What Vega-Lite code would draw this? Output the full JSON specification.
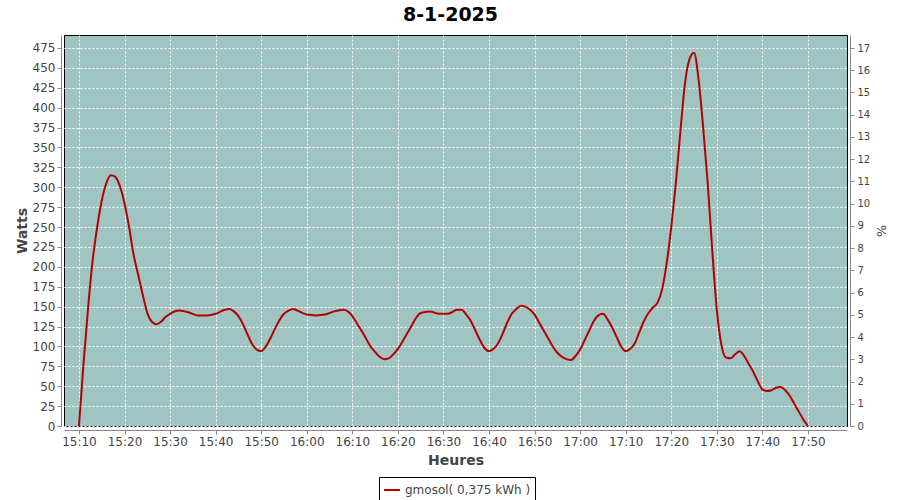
{
  "$schema": "https://vega.github.io/schema/vega-lite/v6.json",
  "width": 783,
  "height": 391,
  "autosize": "none",
  "padding": {"left": 64, "top": 35, "right": 53, "bottom": 74},
  "background": "white",
  "title": {"text": "8-1-2025", "fontSize": 19, "font": "DejaVu Sans", "fontWeight": "bold", "color": "black", "offset": 10, "dx": -5},
  "config": {
    "view": {"fill": "#9FC4C2", "stroke": "black", "strokeWidth": 1},
    "axis": {"labelFont": "DejaVu Sans", "labelFontSize": 12, "labelColor": "#444444", "titleFont": "DejaVu Sans", "titleFontSize": 14, "titleFontWeight": "bold", "titleColor": "#444444", "domainColor": "#888888", "tickColor": "#888888", "tickSize": 4, "gridColor": "white", "gridDash": [2, 2], "gridOpacity": 1, "gridWidth": 1}
  },
  "data": {"values": [
    {"t":"2025-01-08T15:10:00","w":0},{"t":"2025-01-08T15:11:00","w":78},{"t":"2025-01-08T15:12:00","w":148},{"t":"2025-01-08T15:13:00","w":208},{"t":"2025-01-08T15:14:00","w":250},{"t":"2025-01-08T15:15:00","w":283},{"t":"2025-01-08T15:16:00","w":305},{"t":"2025-01-08T15:17:00","w":315},{"t":"2025-01-08T15:18:00","w":313},{"t":"2025-01-08T15:19:00","w":301},
    {"t":"2025-01-08T15:20:00","w":280},{"t":"2025-01-08T15:21:00","w":250},{"t":"2025-01-08T15:22:00","w":215},{"t":"2025-01-08T15:23:00","w":190},{"t":"2025-01-08T15:24:00","w":165},{"t":"2025-01-08T15:25:00","w":142},{"t":"2025-01-08T15:26:00","w":131},{"t":"2025-01-08T15:27:00","w":128},{"t":"2025-01-08T15:28:00","w":131},{"t":"2025-01-08T15:29:00","w":137},
    {"t":"2025-01-08T15:30:00","w":141},{"t":"2025-01-08T15:32:00","w":145},{"t":"2025-01-08T15:34:00","w":143},{"t":"2025-01-08T15:36:00","w":139},{"t":"2025-01-08T15:38:00","w":139},{"t":"2025-01-08T15:40:00","w":141},{"t":"2025-01-08T15:42:00","w":146},{"t":"2025-01-08T15:43:00","w":147},{"t":"2025-01-08T15:44:00","w":144},{"t":"2025-01-08T15:45:00","w":138},{"t":"2025-01-08T15:46:00","w":128},{"t":"2025-01-08T15:47:00","w":115},{"t":"2025-01-08T15:48:00","w":103},{"t":"2025-01-08T15:49:00","w":96},
    {"t":"2025-01-08T15:50:00","w":94},{"t":"2025-01-08T15:51:00","w":100},{"t":"2025-01-08T15:52:00","w":110},{"t":"2025-01-08T15:53:00","w":122},{"t":"2025-01-08T15:54:00","w":133},{"t":"2025-01-08T15:55:00","w":141},{"t":"2025-01-08T15:56:00","w":145},{"t":"2025-01-08T15:57:00","w":147},{"t":"2025-01-08T15:58:00","w":145},
    {"t":"2025-01-08T16:00:00","w":140},{"t":"2025-01-08T16:02:00","w":139},{"t":"2025-01-08T16:04:00","w":140},{"t":"2025-01-08T16:06:00","w":144},{"t":"2025-01-08T16:08:00","w":146},{"t":"2025-01-08T16:09:00","w":144},{"t":"2025-01-08T16:10:00","w":138},{"t":"2025-01-08T16:11:00","w":129},{"t":"2025-01-08T16:12:00","w":120},{"t":"2025-01-08T16:13:00","w":110},{"t":"2025-01-08T16:14:00","w":100},{"t":"2025-01-08T16:15:00","w":93},{"t":"2025-01-08T16:16:00","w":87},{"t":"2025-01-08T16:17:00","w":84},{"t":"2025-01-08T16:18:00","w":85},{"t":"2025-01-08T16:19:00","w":90},
    {"t":"2025-01-08T16:20:00","w":97},{"t":"2025-01-08T16:21:00","w":106},{"t":"2025-01-08T16:22:00","w":116},{"t":"2025-01-08T16:23:00","w":126},{"t":"2025-01-08T16:24:00","w":136},{"t":"2025-01-08T16:25:00","w":142},{"t":"2025-01-08T16:27:00","w":144},{"t":"2025-01-08T16:29:00","w":141},{"t":"2025-01-08T16:31:00","w":141},{"t":"2025-01-08T16:33:00","w":146},{"t":"2025-01-08T16:34:00","w":146},{"t":"2025-01-08T16:35:00","w":140},{"t":"2025-01-08T16:36:00","w":132},{"t":"2025-01-08T16:37:00","w":120},{"t":"2025-01-08T16:38:00","w":108},{"t":"2025-01-08T16:39:00","w":98},
    {"t":"2025-01-08T16:40:00","w":94},{"t":"2025-01-08T16:41:00","w":97},{"t":"2025-01-08T16:42:00","w":104},{"t":"2025-01-08T16:43:00","w":116},{"t":"2025-01-08T16:44:00","w":130},{"t":"2025-01-08T16:45:00","w":141},{"t":"2025-01-08T16:46:00","w":147},{"t":"2025-01-08T16:47:00","w":151},{"t":"2025-01-08T16:48:00","w":150},{"t":"2025-01-08T16:49:00","w":146},
    {"t":"2025-01-08T16:50:00","w":140},{"t":"2025-01-08T16:51:00","w":130},{"t":"2025-01-08T16:52:00","w":120},{"t":"2025-01-08T16:53:00","w":110},{"t":"2025-01-08T16:54:00","w":100},{"t":"2025-01-08T16:55:00","w":92},{"t":"2025-01-08T16:56:00","w":87},{"t":"2025-01-08T16:57:00","w":84},{"t":"2025-01-08T16:58:00","w":83},{"t":"2025-01-08T16:59:00","w":88},
    {"t":"2025-01-08T17:00:00","w":96},{"t":"2025-01-08T17:01:00","w":108},{"t":"2025-01-08T17:02:00","w":120},{"t":"2025-01-08T17:03:00","w":132},{"t":"2025-01-08T17:04:00","w":139},{"t":"2025-01-08T17:05:00","w":141},{"t":"2025-01-08T17:06:00","w":134},{"t":"2025-01-08T17:07:00","w":124},{"t":"2025-01-08T17:08:00","w":112},{"t":"2025-01-08T17:09:00","w":100},
    {"t":"2025-01-08T17:10:00","w":94},{"t":"2025-01-08T17:11:00","w":97},{"t":"2025-01-08T17:12:00","w":104},{"t":"2025-01-08T17:13:00","w":118},{"t":"2025-01-08T17:14:00","w":132},{"t":"2025-01-08T17:15:00","w":142},{"t":"2025-01-08T17:16:00","w":149},{"t":"2025-01-08T17:17:00","w":155},{"t":"2025-01-08T17:18:00","w":172},{"t":"2025-01-08T17:19:00","w":205},
    {"t":"2025-01-08T17:20:00","w":250},{"t":"2025-01-08T17:21:00","w":305},{"t":"2025-01-08T17:22:00","w":370},{"t":"2025-01-08T17:23:00","w":430},{"t":"2025-01-08T17:24:00","w":461},{"t":"2025-01-08T17:25:00","w":469},{"t":"2025-01-08T17:26:00","w":435},{"t":"2025-01-08T17:27:00","w":375},{"t":"2025-01-08T17:28:00","w":305},{"t":"2025-01-08T17:29:00","w":220},
    {"t":"2025-01-08T17:30:00","w":146},{"t":"2025-01-08T17:31:00","w":102},{"t":"2025-01-08T17:32:00","w":86},{"t":"2025-01-08T17:33:00","w":85},{"t":"2025-01-08T17:34:00","w":90},{"t":"2025-01-08T17:35:00","w":94},{"t":"2025-01-08T17:36:00","w":88},{"t":"2025-01-08T17:37:00","w":78},{"t":"2025-01-08T17:38:00","w":68},{"t":"2025-01-08T17:39:00","w":56},
    {"t":"2025-01-08T17:40:00","w":46},{"t":"2025-01-08T17:41:00","w":44},{"t":"2025-01-08T17:42:00","w":45},{"t":"2025-01-08T17:43:00","w":48},{"t":"2025-01-08T17:44:00","w":49},{"t":"2025-01-08T17:45:00","w":45},{"t":"2025-01-08T17:46:00","w":38},{"t":"2025-01-08T17:47:00","w":28},{"t":"2025-01-08T17:48:00","w":18},{"t":"2025-01-08T17:49:00","w":8},
    {"t":"2025-01-08T17:50:00","w":0}
  ]},
  "encoding": {
    "x": {"field": "t", "type": "temporal",
      "scale": {"domain": [{"year": 2025, "month": 1, "date": 8, "hours": 15, "minutes": 6, "seconds": 43}, {"year": 2025, "month": 1, "date": 8, "hours": 17, "minutes": 58, "seconds": 34}], "nice": false},
      "axis": {"title": "Heures", "format": "%H:%M", "values": [
        {"year": 2025, "month": 1, "date": 8, "hours": 15, "minutes": 10},
        {"year": 2025, "month": 1, "date": 8, "hours": 15, "minutes": 20},
        {"year": 2025, "month": 1, "date": 8, "hours": 15, "minutes": 30},
        {"year": 2025, "month": 1, "date": 8, "hours": 15, "minutes": 40},
        {"year": 2025, "month": 1, "date": 8, "hours": 15, "minutes": 50},
        {"year": 2025, "month": 1, "date": 8, "hours": 16, "minutes": 0},
        {"year": 2025, "month": 1, "date": 8, "hours": 16, "minutes": 10},
        {"year": 2025, "month": 1, "date": 8, "hours": 16, "minutes": 20},
        {"year": 2025, "month": 1, "date": 8, "hours": 16, "minutes": 30},
        {"year": 2025, "month": 1, "date": 8, "hours": 16, "minutes": 40},
        {"year": 2025, "month": 1, "date": 8, "hours": 16, "minutes": 50},
        {"year": 2025, "month": 1, "date": 8, "hours": 17, "minutes": 0},
        {"year": 2025, "month": 1, "date": 8, "hours": 17, "minutes": 10},
        {"year": 2025, "month": 1, "date": 8, "hours": 17, "minutes": 20},
        {"year": 2025, "month": 1, "date": 8, "hours": 17, "minutes": 30},
        {"year": 2025, "month": 1, "date": 8, "hours": 17, "minutes": 40},
        {"year": 2025, "month": 1, "date": 8, "hours": 17, "minutes": 50}
      ], "offset": 4, "labelPadding": 2, "titlePadding": 6, "labelFlush": false}}
  },
  "layer": [
    {
      "mark": {"type": "line", "interpolate": "monotone", "strokeWidth": 2, "clip": true},
      "encoding": {
        "y": {"field": "w", "type": "quantitative",
          "scale": {"domain": [0, 491.3], "nice": false, "zero": false},
          "axis": {"title": "Watts", "values": [0,25,50,75,100,125,150,175,200,225,250,275,300,325,350,375,400,425,450,475], "offset": 3, "labelPadding": 2, "titlePadding": 3}},
        "color": {"datum": "gmosol( 0,375 kWh )", "type": "nominal",
          "scale": {"range": ["#B40000"]},
          "legend": {"title": null, "orient": "none", "legendX": 315, "legendY": 442, "symbolType": "stroke", "symbolStrokeWidth": 2, "symbolSize": 250, "strokeColor": "black", "padding": 4, "labelFont": "DejaVu Sans", "labelFontSize": 12, "labelColor": "#444444", "fillColor": "white"}}
      }
    },
    {
      "mark": {"type": "rule", "opacity": 0},
      "encoding": {
        "y": {"datum": 0, "type": "quantitative",
          "scale": {"domain": [0, 17.585], "nice": false},
          "axis": {"title": "%", "orient": "right", "values": [0,1,2,3,4,5,6,7,8,9,10,11,12,13,14,15,16,17], "grid": false, "offset": 3, "labelPadding": 3, "titlePadding": 4, "labelFontSize": 10, "titleFontWeight": "normal", "titleFontSize": 13}}
      }
    }
  ],
  "resolve": {"scale": {"y": "independent"}}
}
